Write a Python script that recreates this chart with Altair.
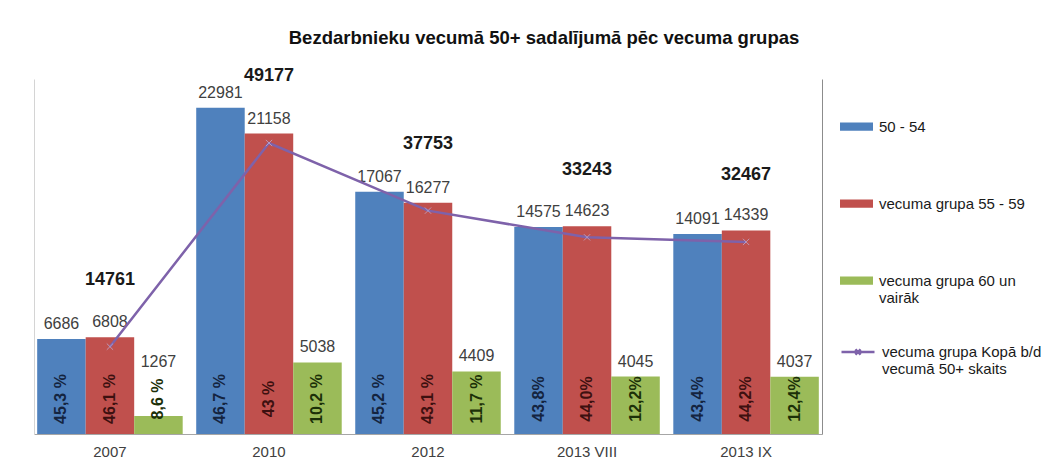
import altair as alt
import pandas as pd

# ---------------- data ----------------
categories = ["2007", "2010", "2012", "2013 VIII", "2013 IX"]
series = ["50 - 54", "vecuma grupa 55 - 59", "vecuma grupa 60 un\nvairāk"]
v_50_54 = [6686, 22981, 17067, 14575, 14091]
v_55_59 = [6808, 21158, 16277, 14623, 14339]
v_60 = [1267, 5038, 4409, 4045, 4037]
p_50_54 = ["45,3 %", "46,7 %", "45,2 %", "43,8%", "43,4%"]
p_55_59 = ["46,1 %", "43 %", "43,1 %", "44,0%", "44,2%"]
p_60 = ["8,6 %", "10,2 %", "11,7 %", "12,2%", "12,4%"]
totals = [14761, 49177, 37753, 33243, 32467]
line_name = "vecuma grupa Kopā b/d\nvecumā 50+ skaits"
title_text = "Bezdarbnieku vecumā 50+ sadalījumā pēc vecuma grupas"

# ---------------- styles ----------------
FONT = "Liberation Sans"
bar_colors = ["#4F81BD", "#C0504D", "#9BBB59"]
pct_colors = ["#14243f", "#3d1010", "#1c3008"]
purple = "#7E62AA"
W, H = 788, 355

bars_df = pd.DataFrame({
    "cat": categories * 3,
    "series": [s for s in series for _ in categories],
    "value": v_50_54 + v_55_59 + v_60,
    "pct": p_50_54 + p_55_59 + p_60,
})
tot_df = pd.DataFrame({"cat": categories, "total": totals, "name": [line_name] * len(categories)})

x_enc = alt.X(
    "cat:N", sort=categories,
    scale=alt.Scale(paddingInner=0.085, paddingOuter=0.02),
    axis=alt.Axis(title=None, labelAngle=0, ticks=False, domainColor="#a6a6a6",
                  labelFontSize=15, labelColor="#404040", labelFont=FONT, labelPadding=10),
)
xoff = alt.XOffset("series:N", sort=series, scale=alt.Scale(paddingInner=0, paddingOuter=0))
y_axis = alt.Axis(title=None, labels=False, ticks=False, grid=False, domainColor="#d4d4d4")
y_enc = alt.Y("value:Q", scale=alt.Scale(domain=[0, 25000], nice=False), axis=y_axis)
y_line = alt.Y(
    "total:Q", scale=alt.Scale(domain=[0, 60000], nice=False),
    axis=alt.Axis(title=None, orient="right", labels=False, ticks=False, grid=False, domainColor="#8c8c8c"),
)

RECT_PATH = "M-1,-0.25L1,-0.25L1,0.25L-1,0.25Z"
LINE_PATH = "M-1,0L1,0M-0.16,-0.16L0.16,0.16M-0.16,0.16L0.16,-0.16"

base = alt.Chart(bars_df)
bars = base.mark_bar().encode(
    x=x_enc, xOffset=xoff, y=y_enc,
    color=alt.Color(
        "series:N", sort=series,
        scale=alt.Scale(domain=series, range=bar_colors),
        legend=alt.Legend(
            title=None, orient="none", legendX=806, legendY=31, direction="vertical",
            symbolType=RECT_PATH, symbolSize=1089, symbolStrokeWidth=0,
            labelFontSize=15, labelColor="#1a1a1a", labelFont=FONT,
            labelExpr="split(datum.label, '\\n')", rowPadding=52, labelOffset=6,
            labelLimit=300, padding=0,
        ),
    ),
)
value_labels = base.transform_calculate(
    labely="max(datum.value, 4000)"
).mark_text(baseline="bottom", dy=-7, fontSize=16, font=FONT, color="#404040").encode(
    x=x_enc, xOffset=xoff,
    y=alt.Y("labely:Q", scale=alt.Scale(domain=[0, 25000], nice=False), axis=y_axis),
    text="value:Q",
)
pct_layers = []
for s, c in zip(series, pct_colors):
    pct_layers.append(
        base.transform_filter(alt.datum.series == s).mark_text(
            angle=270, align="center", baseline="middle", fontSize=16,
            fontWeight="bold", font=FONT, color=c,
        ).encode(x=x_enc, xOffset=xoff, y=alt.value(H - 35), text="pct:N")
    )

bar_group = alt.layer(bars, value_labels, *pct_layers)

lbase = alt.Chart(tot_df)
line = lbase.mark_line(strokeWidth=2.5).encode(
    x=x_enc, y=y_line,
    stroke=alt.Stroke(
        "name:N", scale=alt.Scale(domain=[line_name], range=[purple]),
        legend=alt.Legend(
            title=None, orient="none", legendX=806, legendY=255,
            symbolType=LINE_PATH, symbolSize=1089, symbolStrokeWidth=2.5,
            labelFontSize=15, labelColor="#1a1a1a", labelFont=FONT,
            labelExpr="split(datum.label, '\\n')", labelOffset=6, labelLimit=300, padding=0,
        ),
    ),
)
markers = lbase.mark_point(
    shape="M-1,-1L1,1M-1,1L1,-1", size=40, strokeWidth=1.0, color="#c2b6dc", filled=False
).encode(x=x_enc, y=y_line)
total_labels = lbase.mark_text(
    fontSize=18, fontWeight="bold", font=FONT, color="#1a1a1a", dy=-67
).encode(x=x_enc, y=y_line, text="total:Q")

line_group = alt.layer(line, markers, total_labels)

chart = alt.layer(bar_group, line_group).resolve_scale(y="independent").properties(
    width=W, height=H,
    title=alt.TitleParams(title_text, fontSize=18.5, fontWeight="bold", font=FONT,
                          color="#111111", anchor="middle", dx=116, offset=20),
    padding={"left": 26, "top": 20, "right": 5, "bottom": 5},
).configure_view(stroke=None)

chart.save("out.html", embed_options={"renderer": "svg", "actions": False})
